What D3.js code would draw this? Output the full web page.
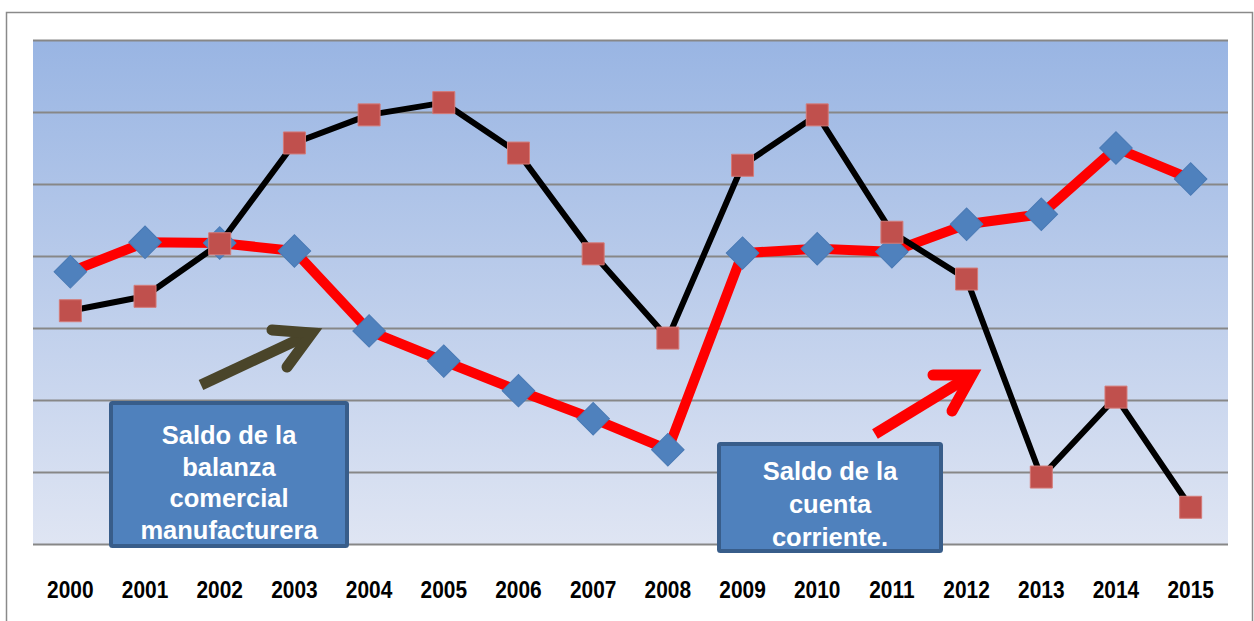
<!DOCTYPE html>
<html>
<head>
<meta charset="utf-8">
<script src="https://cdn.jsdelivr.net/npm/d3@7"></script>
<style>
  html, body { margin: 0; padding: 0; background: #fff; }
  svg { display: block; }
</style>
</head>
<body>
<svg id="chart" width="1254" height="621"></svg>
<script>
// ---- data ----
const years = ["2000","2001","2002","2003","2004","2005","2006","2007","2008","2009","2010","2011","2012","2013","2014","2015"];
const balanzaManufacturera = [3.78, 4.19, 4.18, 4.07, 2.96, 2.54, 2.13, 1.74, 1.31, 4.04, 4.10, 4.06, 4.44, 4.58, 5.50, 5.07];
const cuentaCorriente = [3.24, 3.44, 4.17, 5.57, 5.96, 6.13, 5.43, 4.03, 2.86, 5.26, 5.96, 4.33, 3.68, 0.93, 2.04, 0.51];
const gridTicks = [0, 1, 2, 3, 4, 5, 6, 7];
const labelBalanza = ["Saldo de la", "balanza", "comercial", "manufacturera"];
const labelCuenta = ["Saldo de la", "cuenta", "corriente."];

// ---- layout ----
const svg = d3.select("#chart");
const plot = { left: 33, right: 1228, top: 40, bottom: 544 };

const x = d3.scaleBand().domain(years).range([plot.left, plot.right]).padding(0);
const cx = d => x(d) + x.bandwidth() / 2;
const y = d3.scaleLinear().domain([0, 7]).range([plot.bottom, plot.top]);

// outer frame
svg.append("rect")
  .attr("x", 6.5).attr("y", 12.5).attr("width", 1246).attr("height", 640)
  .attr("fill", "none").attr("stroke", "#8a8a8a").attr("stroke-width", 1.5);

// gradient background
const defs = svg.append("defs");
const grad = defs.append("linearGradient").attr("id", "bg").attr("x1", 0).attr("y1", 0).attr("x2", 0).attr("y2", 1);
grad.append("stop").attr("offset", "0%").attr("stop-color", "#99b5e3");
grad.append("stop").attr("offset", "100%").attr("stop-color", "#dfe5f3");

svg.append("rect")
  .attr("x", plot.left).attr("y", plot.top)
  .attr("width", plot.right - plot.left).attr("height", plot.bottom - plot.top)
  .attr("fill", "url(#bg)");

// gridlines via axis
const yAxis = d3.axisLeft(y).tickValues(gridTicks).tickSize(-(plot.right - plot.left)).tickFormat("");
const gy = svg.append("g").attr("transform", `translate(${plot.left},0)`).call(yAxis);
gy.select(".domain").remove();
gy.selectAll(".tick line").attr("stroke", "#878787").attr("stroke-width", 2);

// x axis labels
const xAxis = d3.axisBottom(x).tickSize(0).tickPadding(0);
const gx = svg.append("g").attr("transform", `translate(0,${plot.bottom})`).call(xAxis);
gx.select(".domain").remove();
gx.selectAll(".tick text")
  .attr("y", 54).attr("dy", 0)
  .attr("font-family", "Liberation Sans, Arial, sans-serif")
  .attr("font-weight", "bold").attr("font-size", 22).attr("fill", "#000")
  .attr("transform", "scale(0.95,1)")
  .attr("x", 0);
gx.selectAll(".tick").each(function () {
  const t = d3.select(this).select("text");
  t.attr("transform", "scale(0.95,1.05)").attr("y", 54 / 1.05);
});

// ---- series 1: balanza manufacturera (red thick line, blue diamonds)
const line1 = d3.line().x((d, i) => cx(years[i])).y(d => y(d));
svg.append("path").datum(balanzaManufacturera)
  .attr("d", line1).attr("fill", "none").attr("stroke", "#ff0000")
  .attr("stroke-width", 10).attr("stroke-linejoin", "round");

const diamond = d3.symbol().type(d3.symbolSquare).size(23 * 23);
svg.append("g").selectAll("path").data(balanzaManufacturera).join("path")
  .attr("d", diamond)
  .attr("transform", (d, i) => `translate(${cx(years[i])},${y(d)}) rotate(45)`)
  .attr("fill", "#4f81bd").attr("stroke", "#4a7ab5").attr("stroke-width", 1);

// ---- series 2: cuenta corriente (black line, red squares)
svg.append("path").datum(cuentaCorriente)
  .attr("d", line1).attr("fill", "none").attr("stroke", "#000")
  .attr("stroke-width", 6).attr("stroke-linejoin", "round");

const square = d3.symbol().type(d3.symbolSquare).size(22 * 22);
svg.append("g").selectAll("path").data(cuentaCorriente).join("path")
  .attr("d", square)
  .attr("transform", (d, i) => `translate(${cx(years[i])},${y(d)})`)
  .attr("fill", "#c0504d").attr("stroke", "#d47a77").attr("stroke-width", 1);

// ---- annotation arrows
function arrow(shaft, head, color) {
  svg.append("path")
    .attr("d", `M${shaft[0][0]},${shaft[0][1]}L${shaft[1][0]},${shaft[1][1]}`)
    .attr("stroke", color).attr("stroke-width", 11).attr("fill", "none").attr("stroke-linecap", "butt");
  svg.append("path")
    .attr("d", `M${head[0][0]},${head[0][1]}L${head[1][0]},${head[1][1]}L${head[2][0]},${head[2][1]}`)
    .attr("stroke", color).attr("stroke-width", 11).attr("fill", "none")
    .attr("stroke-linecap", "round").attr("stroke-linejoin", "miter").attr("stroke-miterlimit", 10);
}
arrow([[201, 385], [310, 334]], [[272, 330], [312, 333], [287, 367]], "#4a452a");
arrow([[875, 434], [970, 376]], [[933, 375], [972, 375], [952, 411]], "#ff0000");

// ---- annotation boxes
function box(bx, by, bw, bh, lines, firstBaseline, lh) {
  svg.append("rect")
    .attr("x", bx + 2).attr("y", by + 2).attr("width", bw - 4).attr("height", bh - 4)
    .attr("rx", 1.5)
    .attr("fill", "#4f81bd").attr("stroke", "#385d8a").attr("stroke-width", 4);
  const t = svg.append("text")
    .attr("font-family", "Liberation Sans, Arial, sans-serif")
    .attr("font-weight", "bold").attr("font-size", 25.5).attr("fill", "#fff")
    .attr("text-anchor", "middle");
  lines.forEach((s, i) => {
    t.append("tspan").attr("x", bx + bw / 2).attr("y", firstBaseline + i * lh).text(s);
  });
}
box(109, 401, 240, 147, labelBalanza, 444, 31.5);
box(717, 442, 226, 111, labelCuenta, 480, 33);
</script>
</body>
</html>
